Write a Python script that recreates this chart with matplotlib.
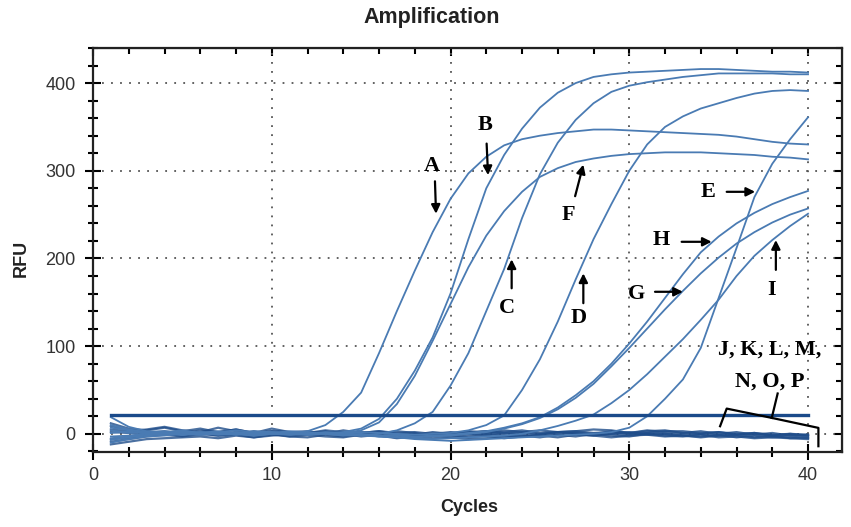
import matplotlib
matplotlib.use('Agg')
import matplotlib.pyplot as plt

plt.rcParams['font.family'] = ['Liberation Sans', 'DejaVu Sans']

# cycles 1..40
cycles = list(range(1, 41))

# amplification curves (RFU per cycle)
curve_A = [19, 8, 3, 2, 4, 1, 3, 0, 2, 1, 0, 3, 10, 25, 47, 92, 140, 186, 230, 268,
           297, 316, 329, 336, 340, 343, 345, 347, 347, 346, 345, 344, 343, 342, 341, 339, 336, 333, 331, 330]
curve_B = [-3, -2, 0, 1, -1, 2, 0, 1, -1, 0, 2, 1, 0, 2, 6, 17, 40, 72, 110, 160,
           222, 280, 318, 348, 372, 389, 400, 407, 410, 412, 413, 414, 415, 416, 416, 415, 414, 413, 413, 412]
curve_F = [7, 4, 2, 3, 1, 2, 0, 1, 3, 2, 1, 0, 2, 1, 4, 13, 34, 66, 106, 148,
           190, 226, 254, 276, 293, 303, 310, 314, 317, 319, 320, 321, 321, 321, 320, 319, 318, 316, 315, 313]
curve_C = [-10, -6, -3, -2, 0, -1, 1, 0, -2, 0, -1, 1, 0, -1, -2, 0, 4, 12, 25, 55,
           92, 140, 188, 246, 296, 332, 358, 377, 390, 397, 401, 404, 407, 409, 411, 411, 411, 411, 410, 410]
curve_D = [4, 1, 2, 0, 3, 1, 2, 4, 2, 1, 3, 2, 0, 1, 2, 1, 0, -1, 0, 1,
           4, 10, 21, 50, 85, 128, 176, 222, 262, 300, 330, 350, 362, 371, 377, 383, 388, 391, 392, 391]
curve_H = [-5, -3, -1, 0, 1, -1, 0, 2, 0, 1, -1, 0, 1, -1, 0, -2, -1, -3, -2, -1,
           1, 3, 7, 12, 19, 30, 44, 60, 80, 103, 128, 155, 182, 207, 225, 240, 252, 262, 270, 277]
curve_G = [10, 5, 2, 1, -1, 0, 2, -1, 1, 0, 2, -1, 0, 1, -1, -3, -2, -4, -3, -2,
           0, 2, 6, 11, 18, 28, 41, 57, 77, 98, 120, 142, 163, 183, 201, 217, 230, 241, 250, 257]
curve_I = [-7, -4, -2, 0, -1, 1, -1, 0, -2, 0, 1, -1, 0, -2, -1, -3, -4, -5, -6, -5,
           -4, -3, -2, 0, 4, 9, 15, 22, 35, 50, 68, 88, 108, 130, 153, 180, 203, 221, 237, 251]
curve_E = [1, 3, 0, 2, -1, 1, 0, -1, 1, 2, 0, -1, 1, 0, -2, -3, -4, -6, -7, -8,
           -7, -6, -5, -4, -3, -2, -1, 0, 2, 7, 20, 40, 62, 98, 155, 212, 270, 308, 336, 361]

# negative samples J..P (flat)
curve_J = [12, 6, 4, 7, 3, 6, 2, 5, 1, 3, 2, 0, 3, -1, 2, 0, 3, 1, -2, 0,
           2, 3, 0, 2, 4, 2, 1, 0, 3, 1, 4, 2, 1, 0, 2, -1, 1, -2, 0, -2]
curve_K = [-12, -9, -6, -5, -4, -3, -5, -2, -4, -1, -3, -4, -1, -3, 0, -2, -4, -2, -5, -4,
           -6, -5, -3, -2, -4, -1, -3, 0, -2, -3, 0, -2, -3, -1, -4, -3, -5, -4, -5, -6]
curve_L = [5, 3, 5, 8, 4, 2, 7, 3, 1, 6, 2, 3, 0, 4, 1, 3, 0, -1, 2, 0,
           3, 1, 4, 2, 0, 2, 3, 5, 4, 1, 3, 4, 1, 3, 0, 2, -1, 1, -2, -1]
curve_M = [-6, -4, -2, 0, -2, 1, -2, 0, 3, 0, -3, -1, 2, 0, -3, -1, 0, -3, -1, -4,
           -2, 0, -2, -3, -1, 2, 0, -2, 0, 2, -1, 0, -2, -3, -1, -4, -2, -4, -3, -5]
curve_N = [9, 4, 1, 3, 0, 4, 2, 5, 1, 3, 2, 1, 4, 2, 1, 3, 1, 2, 0, 2,
           1, 3, 2, 4, 1, 2, 3, 1, 2, 0, 1, 3, 3, 1, 2, 0, 1, -1, 0, -1]
curve_O = [-9, -6, -3, -1, -3, 0, -2, -1, -4, -2, 0, -1, -3, -4, -1, -2, -5, -3, -2, -1,
           -4, -2, -5, -3, -2, -4, -1, -2, -4, -2, -1, -3, -2, -4, -2, -1, -4, -2, -5, -4]
curve_P = [2, 1, -1, 1, 0, -1, 1, -1, 0, 1, -1, 0, 1, -1, 0, 1, -1, 0, -1, 1,
           0, -1, 1, 0, -1, 0, 1, -1, 0, -1, 1, 0, -1, 0, -2, -1, 0, -2, -1, -3]

threshold = 22

fig = plt.figure(figsize=(8.51, 5.27), dpi=100)
ax = fig.add_axes([93 / 851, 75 / 527, 749 / 851, 404 / 527])

neg = [curve_J, curve_K, curve_L, curve_M, curve_N, curve_O, curve_P]
pos = [curve_A, curve_B, curve_F, curve_C, curve_D, curve_H, curve_G, curve_I, curve_E]

for c in neg:
    ax.plot(cycles, c, color='#1f4d8a', lw=1.6, alpha=0.8)
for c in pos:
    ax.plot(cycles, c, color='#4a7bb3', lw=1.3)

ax.plot([cycles[0], cycles[-1]], [threshold, threshold], color='#1a4a8a', lw=2.4, zorder=5)

ax.set_xlim(0, 41.9)
ax.set_ylim(-20.7, 440)
ax.set_xticks([0, 10, 20, 30, 40])
ax.set_xticks(range(0, 42, 2), minor=True)
ax.set_yticks([0, 100, 200, 300, 400])
ax.set_yticks(range(-20, 441, 20), minor=True)

ax.grid(which='major', linestyle=(0, (1, 4)), color='#555555', lw=1.3)

ax.tick_params(which='major', direction='inout', length=11, width=1.5, colors='black',
               labelcolor='#333333', labelsize=13)
ax.tick_params(which='minor', direction='inout', length=7, width=1.5, colors='black')
ax.tick_params(axis='y', pad=7)
ax.tick_params(axis='x', pad=5)

# top / right ticks point inward
sx = ax.secondary_xaxis('top')
sx.set_xticks([0, 10, 20, 30, 40])
sx.set_xticks(range(0, 42, 2), minor=True)
sx.tick_params(which='major', direction='in', length=6, width=1.5, labeltop=False)
sx.tick_params(which='minor', direction='in', length=4, width=1.5)
sy = ax.secondary_yaxis('right')
sy.set_yticks([0, 100, 200, 300, 400])
sy.set_yticks(range(-20, 441, 20), minor=True)
sy.tick_params(which='major', direction='in', length=6, width=1.5, labelright=False)
sy.tick_params(which='minor', direction='in', length=4, width=1.5)

for s in ax.spines.values():
    s.set_linewidth(1.6)
    s.set_color('#222222')

fig.text(431.5 / 851, 1 - 17.5 / 527, 'Amplification', ha='center', va='center',
         fontsize=15.5, fontweight='bold', color='#222222')
fig.text(469 / 851, 1 - 508 / 527, 'Cycles', ha='center', va='center',
         fontsize=13, fontweight='bold', color='#222222')
fig.text(21 / 851, 1 - 258 / 527, 'RFU', ha='center', va='center', rotation=90,
         fontsize=13, fontweight='bold', color='#222222')

# curve labels with arrows
serif = dict(family='Liberation Serif', fontweight='bold', fontsize=16, color='black',
             ha='center', va='center')
arrow = dict(arrowstyle='-|>', color='black', lw=1.6, mutation_scale=13, shrinkA=0, shrinkB=0)

labels = [
    ('A', (18.95, 306), (19.13, 288), (19.19, 251)),
    ('B', (21.93, 352), (22.02, 331), (22.1, 295)),
    ('F', (26.6, 250), (26.97, 271), (27.43, 307)),
    ('C', (23.14, 143), (23.42, 166), (23.42, 199)),
    ('D', (27.15, 132), (27.43, 149), (27.43, 183)),
    ('G', (30.42, 160), (31.44, 162), (33.0, 162)),
    ('H', (31.81, 221), (32.93, 219), (34.61, 219)),
    ('E', (34.42, 276), (35.45, 276), (37.04, 276)),
    ('I', (37.97, 164), (38.2, 187), (38.2, 221)),
]
for name, tpos, tail, tip in labels:
    ax.text(tpos[0], tpos[1], name, **serif)
    ax.annotate('', xy=tip, xytext=tail, arrowprops=arrow)

ax.text(37.87, 96, 'J, K, L, M,', **serif)
ax.text(37.87, 60, 'N, O, P', **serif)

# bracket for the negative samples
ax.plot([35.08, 35.45, 37.97, 40.58, 40.58], [8.7, 28.8, 18.2, 6.8, -14.1],
        color='black', lw=1.6, zorder=6, clip_on=False)
ax.plot([37.97, 38.3], [18.2, 46], color='black', lw=1.6, zorder=6)

plt.savefig('out.png', dpi=100)
